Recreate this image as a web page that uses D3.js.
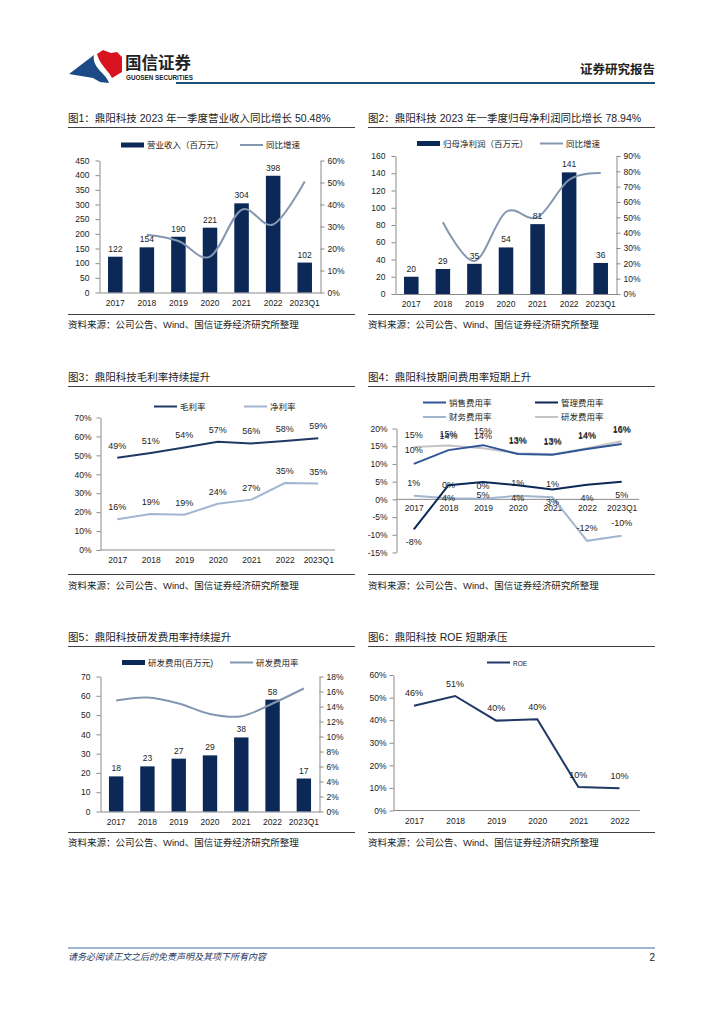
<!DOCTYPE html>
<html>
<head>
<meta charset="utf-8">
<title>鼎阳科技</title>
<script src="https://d3js.org/d3.v7.min.js"></script>
<style>
  body { margin: 0; background: #fff; }
  svg { display: block; }
  text { font-family: "Liberation Sans", "Noto Sans CJK SC", sans-serif; fill: #222; }
  .title { font-size: 10.5px; }
  .src { font-size: 9.5px; }
  .ax text { font-size: 8.5px; fill: #222; }
  .lab { font-size: 8.5px; }
  .llab { font-size: 9px; }
  .leg { font-size: 8.5px; }
</style>
</head>
<body>
<svg width="724" height="1024"></svg>
<script>
// ---- data ----
const years = ['2017', '2018', '2019', '2020', '2021', '2022', '2023Q1'];
const roeYears = ['2017', '2018', '2019', '2020', '2021', '2022'];

const revenue = [122, 154, 190, 221, 304, 398, 102];             // 百万元
const revenueGrowth = [null, 26.2, 23.4, 16.3, 37.6, 30.9, 50.48];
const netProfit = [20, 29, 35, 54, 81, 141, 36];
const netProfitGrowth = [null, 46.8, 21.5, 53.5, 50.0, 74.5, 78.94];
const grossMargin = [48.7, 51.3, 54.2, 57.2, 56.3, 57.6, 59.0];
const netMargin = [16.3, 19.0, 18.6, 24.4, 26.6, 35.4, 35.1];
const salesRate = [10.0, 13.9, 15.3, 12.8, 12.6, 14.2, 15.6];
const adminRate = [-8.5, 4.0, 4.9, 4.0, 2.8, 4.1, 5.0];
const financeRate = [1.0, 0.3, 0.2, 1.0, 0.6, -11.7, -10.3];
const rdRate = [14.8, 15.2, 14.4, 13.0, 12.7, 14.4, 16.4];
const rdExpense = [18.2, 23.4, 27.4, 29.1, 38.4, 58.0, 17.1];
const roe = [46.4, 50.7, 39.8, 40.4, 10.4, 9.9];

const ticksRevenue = [0, 50, 100, 150, 200, 250, 300, 350, 400, 450];
const ticksPct60 = [0, 10, 20, 30, 40, 50, 60];
const ticksProfit = [0, 20, 40, 60, 80, 100, 120, 140, 160];
const ticksPct90 = [0, 10, 20, 30, 40, 50, 60, 70, 80, 90];
const ticksPct70 = [0, 10, 20, 30, 40, 50, 60, 70];
const ticksFee = [-15, -10, -5, 0, 5, 10, 15, 20];
const ticksRd = [0, 10, 20, 30, 40, 50, 60, 70];
const ticksPct18 = [0, 2, 4, 6, 8, 10, 12, 14, 16, 18];

const source = '资料来源：公司公告、Wind、国信证券经济研究所整理';

const BAR = '#0b2857';
const GREYLINE = '#8497b0';

const svg = d3.select('svg');

// ---- header ----
svg.append('path')
  .attr('d', 'M69,74 L94,55 C92,63 99,70 103,74 C106,77 108,80 109,83 L100,82 L93,78 Z')
  .attr('fill', '#1c4a86');
svg.append('path')
  .attr('d', 'M97,54 L103,50 L111,53 L117,52 L122,57 L122,72 L112,78 C109,72 104,68 101,63 C99,60 98,57 97,54 Z')
  .attr('fill', '#d7141f');
svg.append('text').attr('x', 125).attr('y', 69)
  .style('font-size', '16.5px').style('font-weight', 'bold').style('font-family', '"Noto Sans CJK SC"')
  .text('国信证券');
svg.append('text').attr('x', 126).attr('y', 79.5)
  .style('font-size', '6.3px').style('font-weight', 'bold').text('GUOSEN SECURITIES');
svg.append('text').attr('x', 655).attr('y', 74).attr('text-anchor', 'end')
  .style('font-size', '12.5px').style('font-weight', 'bold').style('font-family', '"Noto Sans CJK SC"')
  .text('证券研究报告');
svg.append('line').attr('x1', 176).attr('x2', 655).attr('y1', 83).attr('y2', 83)
  .attr('stroke', '#1f4e79').attr('stroke-width', 2);

// ---- footer ----
svg.append('line').attr('x1', 68).attr('x2', 655).attr('y1', 948).attr('y2', 948)
  .attr('stroke', '#3f6fa8').attr('stroke-width', 1);
svg.append('text').attr('x', 68).attr('y', 960)
  .style('font-size', '9px').style('font-style', 'italic').style('fill', '#1f3864')
  .text('请务必阅读正文之后的免责声明及其项下所有内容');
svg.append('text').attr('x', 655).attr('y', 961).attr('text-anchor', 'end')
  .style('font-size', '10px').text('2');

// ---- helpers ----
function frame(x0, yTitle, yRule, ySep, ySrc, title) {
  svg.append('text').attr('class', 'title').attr('x', x0).attr('y', yTitle).text(title);
  svg.append('line').attr('x1', x0).attr('x2', x0 + 287).attr('y1', yRule).attr('y2', yRule)
    .attr('stroke', '#404040').attr('stroke-width', 1);
  svg.append('line').attr('x1', x0).attr('x2', x0 + 287).attr('y1', ySep).attr('y2', ySep)
    .attr('stroke', '#404040').attr('stroke-width', 1);
  svg.append('text').attr('class', 'src').attr('x', x0).attr('y', ySrc).text(source);
}

function styleAxis(g) {
  g.selectAll('.domain, .tick line').attr('stroke', '#8a8a8a');
  g.attr('font-family', null).attr('font-size', null);
}

function legendBar(x, y, label) {
  svg.append('rect').attr('x', x).attr('y', y - 2.5).attr('width', 23).attr('height', 5).attr('fill', BAR);
  svg.append('text').attr('class', 'leg').attr('x', x + 26).attr('y', y + 3).text(label);
}

function legendLine(x, y, color, label, fs) {
  svg.append('line').attr('x1', x).attr('x2', x + 23).attr('y1', y).attr('y2', y)
    .attr('stroke', color).attr('stroke-width', 2);
  svg.append('text').attr('class', 'leg').attr('x', x + 26).attr('y', y + 3)
    .style('font-size', fs || null).text(label);
}

function combo(c) {
  const x = d3.scaleBand().domain(years).range([c.left, c.right]).paddingInner(0.54).paddingOuter(0.27);
  const yL = d3.scaleLinear().domain([0, c.lMax]).range([c.bottom, c.top]);
  const yR = d3.scaleLinear().domain([0, c.rMax]).range([c.bottom, c.top]);

  svg.append('g').attr('class', 'ax').attr('transform', `translate(${c.left},0)`)
    .call(d3.axisLeft(yL).tickValues(c.lTicks).tickSize(4).tickSizeOuter(0).tickPadding(6))
    .call(styleAxis);
  svg.append('g').attr('class', 'ax').attr('transform', `translate(${c.right},0)`)
    .call(d3.axisRight(yR).tickValues(c.rTicks).tickSize(4).tickSizeOuter(0).tickPadding(3).tickFormat(d => d + '%'))
    .call(styleAxis);
  svg.append('g').attr('class', 'ax').attr('transform', `translate(0,${c.bottom})`)
    .call(d3.axisBottom(x).tickSize(0).tickSizeOuter(0).tickPadding(7))
    .call(styleAxis);

  const g = svg.append('g');
  g.selectAll('rect').data(c.bars).join('rect')
    .attr('x', (d, i) => x(years[i]))
    .attr('y', d => yL(d))
    .attr('width', x.bandwidth())
    .attr('height', d => c.bottom - yL(d))
    .attr('fill', BAR);

  const line = d3.line()
    .defined(d => d != null)
    .x((d, i) => x(years[i]) + x.bandwidth() / 2)
    .y(d => yR(d))
    .curve(d3.curveCardinal);
  g.append('path').datum(c.line).attr('d', line)
    .attr('fill', 'none').attr('stroke', GREYLINE).attr('stroke-width', 2);

  g.selectAll('text.lab').data(c.bars).join('text').attr('class', 'lab')
    .attr('x', (d, i) => x(years[i]) + x.bandwidth() / 2)
    .attr('y', d => yL(d) - 5)
    .attr('text-anchor', 'middle')
    .text(d => Math.round(d));
}

function lineChart(c) {
  const cats = c.cats;
  const x = d3.scalePoint().domain(cats).range([c.left, c.right]).padding(0.5);
  const y = d3.scaleLinear().domain(c.domain).range([c.bottom, c.top]);
  const y0 = y(0);

  svg.append('g').attr('class', 'ax').attr('transform', `translate(${c.left},0)`)
    .call(d3.axisLeft(y).tickValues(c.ticks).tickSize(4).tickSizeOuter(0).tickPadding(c.pad || 4).tickFormat(d => d + '%'))
    .call(styleAxis);
  const xa = svg.append('g').attr('class', 'ax').attr('transform', `translate(0,${y0})`)
    .call(d3.axisBottom(x).tickSize(0).tickSizeOuter(0).tickPadding(c.xpad || 7))
    .call(styleAxis);
  xa.select('.domain').attr('d', `M${c.left},0H${c.right}`);

  const line = d3.line().x((d, i) => x(cats[i])).y(d => y(d));
  c.series.forEach(s => {
    svg.append('path').datum(s.values).attr('d', line)
      .attr('fill', 'none').attr('stroke', s.color).attr('stroke-width', 2);
  });
  c.series.forEach(s => {
    svg.append('g').selectAll('text').data(s.values).join('text').attr('class', 'llab')
      .attr('x', (d, i) => x(cats[i]))
      .attr('y', d => y(d) + s.dy)
      .attr('text-anchor', 'middle')
      .text(d => Math.round(d) + '%');
  });
}

// ---- 图1 ----
frame(68, 122, 127.5, 314.5, 328, '图1：鼎阳科技 2023 年一季度营业收入同比增长 50.48%');
legendBar(121, 145, '营业收入（百万元）');
legendLine(240, 145, GREYLINE, '同比增速');
combo({ left: 99.5, right: 320.5, top: 160.5, bottom: 292.5,
  lMax: 450, rMax: 60, lTicks: ticksRevenue, rTicks: ticksPct60,
  bars: revenue, line: revenueGrowth });

// ---- 图2 ----
frame(368, 122, 127.5, 314.5, 328, '图2：鼎阳科技 2023 年一季度归母净利润同比增长 78.94%');
legendBar(417, 143.5, '归母净利润（百万元）');
legendLine(540, 143.5, GREYLINE, '同比增速');
combo({ left: 395.5, right: 616.5, top: 156, bottom: 294,
  lMax: 160, rMax: 90, lTicks: ticksProfit, rTicks: ticksPct90,
  bars: netProfit, line: netProfitGrowth });

// ---- 图3 ----
frame(68, 381, 386.5, 574.5, 589, '图3：鼎阳科技毛利率持续提升');
legendLine(154, 406.5, '#1f3864', '毛利率');
legendLine(244, 406.5, '#a3b6d1', '净利率');
lineChart({ cats: years, left: 100.5, right: 335, top: 417.5, bottom: 550,
  domain: [0, 70], ticks: ticksPct70, pad: 5,
  series: [
    { values: grossMargin, color: '#1f3864', dy: -9 },
    { values: netMargin, color: '#a3b6d1', dy: -9 }
  ] });

// ---- 图4 ----
frame(368, 381, 386.5, 574.5, 589, '图4：鼎阳科技期间费用率短期上升');
legendLine(423, 402.5, '#2f5597', '销售费用率');
legendLine(535, 402.5, '#0b2857', '管理费用率');
legendLine(423, 417, '#a3b6d1', '财务费用率');
legendLine(535, 417, '#c4c4c4', '研发费用率');
lineChart({ cats: years, left: 396.5, right: 639, top: 428.5, bottom: 552.5,
  domain: [-15, 20], ticks: ticksFee, pad: 5, xpad: 6,
  series: [
    { values: rdRate, color: '#c4c4c4', dy: -9 },
    { values: financeRate, color: '#a3b6d1', dy: -10 },
    { values: salesRate, color: '#2f5597', dy: -11 },
    { values: adminRate, color: '#0b2857', dy: 16 }
  ] });

// ---- 图5 ----
frame(68, 640.5, 646.5, 832.5, 845.5, '图5：鼎阳科技研发费用率持续提升');
legendBar(122, 662.5, '研发费用(百万元)');
legendLine(230, 662.5, GREYLINE, '研发费用率');
combo({ left: 100.5, right: 319.5, top: 676.5, bottom: 811.5,
  lMax: 70, rMax: 18, lTicks: ticksRd, rTicks: ticksPct18,
  bars: rdExpense, line: rdRate });

// ---- 图6 ----
frame(368, 640.5, 646.5, 832.5, 845.5, '图6：鼎阳科技 ROE 短期承压');
legendLine(487, 662.5, '#1f3864', 'ROE', '6.5px');
lineChart({ cats: roeYears, left: 393.5, right: 640, top: 675, bottom: 810.5,
  domain: [0, 60], ticks: ticksPct60, pad: 3,
  series: [
    { values: roe, color: '#1f3864', dy: -9.5 }
  ] });
</script>
</body>
</html>
